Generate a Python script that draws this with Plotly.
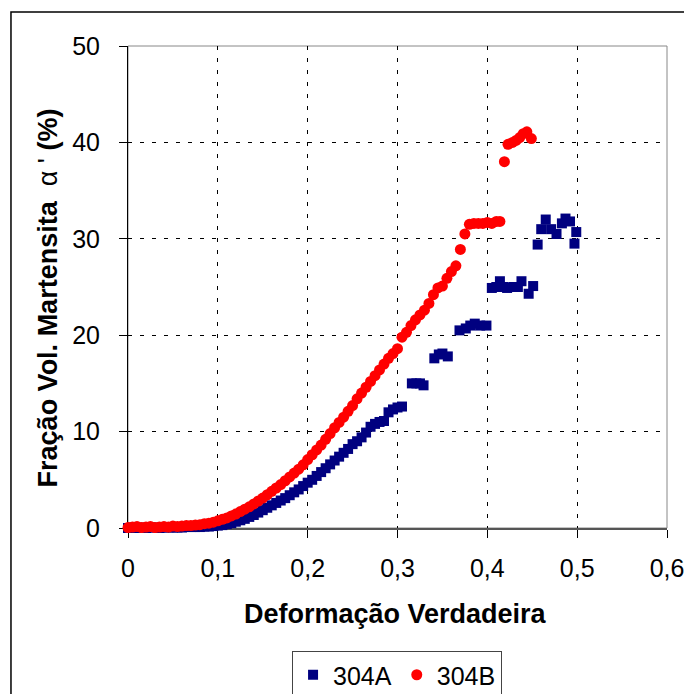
import plotly.graph_objects as go

# 304B (red circles)
x_304b = [0.000, 0.005, 0.010, 0.015, 0.020, 0.025, 0.030, 0.035, 0.040, 0.045,
          0.050, 0.055, 0.060, 0.065, 0.070, 0.075, 0.080, 0.085, 0.090, 0.095,
          0.100, 0.105, 0.110, 0.115, 0.120, 0.125, 0.130, 0.135, 0.140, 0.145,
          0.150, 0.155, 0.160, 0.165, 0.170, 0.175, 0.180, 0.185, 0.190, 0.195,
          0.200, 0.205, 0.210, 0.215, 0.220, 0.225, 0.230, 0.235, 0.240, 0.245,
          0.250, 0.255, 0.260, 0.265, 0.270, 0.275, 0.280, 0.285, 0.290, 0.295,
          0.300, 0.305, 0.310, 0.315, 0.320, 0.325, 0.330, 0.335, 0.340, 0.345,
          0.350, 0.355, 0.360, 0.365, 0.370, 0.375, 0.380, 0.385, 0.390, 0.395,
          0.400, 0.405, 0.410, 0.414, 0.419, 0.423, 0.428, 0.432, 0.436, 0.440,
          0.444, 0.449]
y_304b = [0.05, 0.10, 0.15, 0.05, 0.10, 0.15, 0.05, 0.10, 0.15, 0.10,
          0.20, 0.15, 0.20, 0.25, 0.25, 0.30, 0.35, 0.45, 0.50, 0.60,
          0.75, 0.90, 1.05, 1.25, 1.45, 1.70, 1.95, 2.20, 2.50, 2.80,
          3.10, 3.45, 3.80, 4.15, 4.50, 4.90, 5.30, 5.70, 6.10, 6.55,
          7.10, 7.60, 8.10, 8.60, 9.20, 9.80, 10.40, 10.95, 11.50, 12.10,
          12.70, 13.40, 14.00, 14.60, 15.20, 15.80, 16.40, 17.00, 17.60, 18.10,
          18.60, 19.80, 20.30, 21.00, 21.60, 22.10, 22.60, 23.30, 24.20, 24.90,
          25.10, 25.90, 26.60, 27.20, 28.90, 30.50, 31.50, 31.60, 31.60, 31.60,
          31.70, 31.60, 31.80, 31.80, 38.00, 39.80, 40.00, 40.20, 40.50, 40.90,
          41.10, 40.40]

# 304A (navy squares)
x_304a = [0.000, 0.005, 0.010, 0.015, 0.020, 0.025, 0.030, 0.035, 0.040, 0.045,
          0.050, 0.055, 0.060, 0.065, 0.070, 0.075, 0.080, 0.085, 0.090, 0.095,
          0.100, 0.105, 0.110, 0.115, 0.120, 0.125, 0.130, 0.135, 0.140, 0.145,
          0.150, 0.155, 0.160, 0.165, 0.170, 0.175, 0.180, 0.185, 0.190, 0.195,
          0.200, 0.205, 0.210, 0.215, 0.220, 0.225, 0.230, 0.235, 0.240, 0.245,
          0.250, 0.255, 0.260, 0.265, 0.270, 0.275, 0.280, 0.285, 0.290, 0.295,
          0.300, 0.305, 0.316, 0.321, 0.325, 0.329, 0.341, 0.346, 0.350, 0.356,
          0.369, 0.376, 0.381, 0.386, 0.392, 0.399, 0.405, 0.410, 0.414, 0.418,
          0.422, 0.429, 0.434, 0.438, 0.446, 0.451, 0.456, 0.460, 0.465, 0.471,
          0.477, 0.483, 0.487, 0.492, 0.497, 0.499]
y_304a = [0.00, 0.05, 0.00, 0.05, 0.00, 0.05, 0.05, 0.00, 0.05, 0.05,
          0.05, 0.05, 0.05, 0.10, 0.10, 0.10, 0.10, 0.15, 0.15, 0.20,
          0.25, 0.30, 0.40, 0.50, 0.65, 0.80, 0.95, 1.15, 1.35, 1.60,
          1.85, 2.10, 2.35, 2.60, 2.85, 3.10, 3.40, 3.70, 4.00, 4.35,
          4.70, 5.00, 5.40, 5.80, 6.20, 6.60, 7.00, 7.40, 7.80, 8.20,
          8.70, 9.00, 9.40, 9.90, 10.50, 10.80, 11.00, 11.10, 12.00, 12.30,
          12.50, 12.60, 15.00, 15.00, 15.00, 14.80, 17.60, 18.00, 18.10, 17.80,
          20.50, 20.70, 21.00, 21.20, 21.00, 21.00, 24.90, 25.00, 25.60, 25.00,
          24.90, 25.00, 25.00, 25.60, 24.30, 25.10, 29.40, 31.00, 32.00, 31.00,
          30.50, 31.60, 32.10, 31.80, 29.50, 30.70]

x_ticks = [0, 0.1, 0.2, 0.3, 0.4, 0.5, 0.6]
x_ticktext = ["0", "0,1", "0,2", "0,3", "0,4", "0,5", "0,6"]
y_ticks = [0, 10, 20, 30, 40, 50]

FONT = "Liberation Sans, Arial, sans-serif"

# page body has an 8px margin, so the figure is sized to fit inside it
OFF = 8
PL, PR, PT, PB = 127.7 - OFF, 667.5 - OFF, 46 - OFF, 528 - OFF
W, H = 692 - OFF, 694 - OFF
PW, PH = PR - PL, PB - PT


def px(xpix):
    return (xpix - OFF - PL) / PW


def py(ypix):
    return (PB - (ypix - OFF)) / PH


fig = go.Figure()
fig.add_trace(go.Scatter(
    x=x_304a, y=y_304a, mode="markers", name="304A",
    marker=dict(symbol="square", size=10, color="#000080", line=dict(width=0)),
    cliponaxis=False,
))
fig.add_trace(go.Scatter(
    x=x_304b, y=y_304b, mode="markers", name="304B",
    marker=dict(symbol="circle", size=11, color="#FF0000", line=dict(width=0)),
    cliponaxis=False,
))

fig.update_layout(
    width=W, height=H,
    margin=dict(l=PL, r=W - PR, t=PT, b=H - PB, autoexpand=False),
    paper_bgcolor="white", plot_bgcolor="white",
    font=dict(family=FONT, color="black", size=25),
    showlegend=True,
    legend=dict(
        orientation="h", x=px(292), y=py(651),
        xanchor="left", yanchor="top",
        bordercolor="#444444", borderwidth=1, bgcolor="white",
        font=dict(family=FONT, size=25, color="black"),
        itemwidth=30,
    ),
    xaxis=dict(
        range=[0, 0.6], tickvals=x_ticks, ticktext=x_ticktext,
        ticks="outside", ticklen=8, tickcolor="black", tickwidth=1,
        showline=True, linecolor="#555555", linewidth=2,
        showgrid=True, gridcolor="black", gridwidth=1, griddash="4px,8px",
        zeroline=False, layer="below traces",
        tickfont=dict(family=FONT, size=25, color="black"),
        ticklabelstandoff=9,
    ),
    yaxis=dict(
        range=[0, 50], tickvals=y_ticks,
        ticks="outside", ticklen=8, tickcolor="black", tickwidth=1,
        showline=True, linecolor="black", linewidth=1,
        showgrid=True, gridcolor="black", gridwidth=1, griddash="4px,8px",
        zeroline=False, layer="below traces",
        tickfont=dict(family=FONT, size=25, color="black"),
        ticklabelstandoff=14,
    ),
    shapes=[
        dict(type="rect", xref="paper", yref="paper", x0=0, x1=1, y0=0, y1=1,
             line=dict(color="#888888", width=1), layer="below"),
        dict(type="rect", xref="paper", yref="paper",
             x0=px(10.5), x1=1.2, y0=-0.5, y1=py(12),
             line=dict(color="black", width=1.5), layer="below"),
    ],
    annotations=[
        dict(text="<b>Deformação Verdadeira</b>", xref="paper", yref="paper",
             x=px(396), y=py(614),
             xanchor="center", yanchor="middle", showarrow=False,
             font=dict(family=FONT, size=27, color="black")),
        dict(text="<b>Fração Vol. Martensita</b>  α ' <b>(%)</b>", xref="paper", yref="paper",
             x=px(48), y=py(298), textangle=-90,
             xanchor="center", yanchor="middle", showarrow=False,
             font=dict(family=FONT, size=27, color="black")),
    ],
)

fig.write_html("out.html")
